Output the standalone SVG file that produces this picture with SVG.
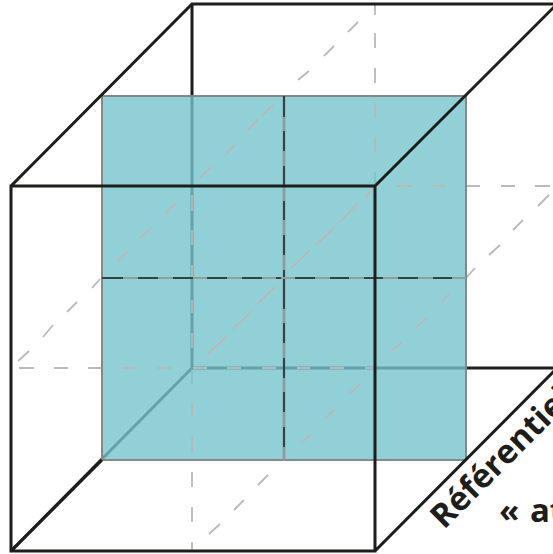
<svg xmlns="http://www.w3.org/2000/svg" width="553" height="554" viewBox="0 0 553 554">
<style>
.k{fill:none;stroke:#1d1d1b;stroke-width:3}
.g{fill:none;stroke:#b9b9b9;stroke-width:1.8}
.m{fill:none;stroke:#3a3f40;stroke-width:2.2}
.mg{fill:none;stroke:#979a9b;stroke-width:2.2}
.t{font-family:"Open Sans","Liberation Sans",sans-serif;font-weight:700;font-size:33px;fill:#1d1d1b}
</style>
<rect width="553" height="554" fill="#fff"/>
<g id="back-edges">
<path class="k" d="M192 4V368M192 368H557M192 368L11 551"/>
</g>
<g id="grey-back">
<path class="g" d="M375 4V15M375 33V48M375 68V83M375 103V117M375 137V152M375 172V186"/>
<path class="g" d="M192 370V384M192 403V417M192 437V452M192 472V487M192 507V522M192 542V550"/>
<path class="g" d="M397 186H411M431 186H446M466 186H480M501 186H515M535 186H550"/>
<path class="g" d="M19 368H34M54 368H68M88 368H102M123 368H137M157 368H172"/>
<path class="g" d="M358 22L348 32M334 46L324 56M309 71L298 80"/>
<path class="g" d="M549 195L538 206M523 220L513 230M500 245L489 255M475 268L466 278M268 475L258 485M244 500L234 510M220 524L209 534"/>
<path class="g" d="M100 279L92 288M77 302L67 312M53 325L43 337M29 351L18 361"/>
</g>
<g id="plane">
<rect x="102" y="96" width="364" height="364" fill="#77c4ce" fill-opacity=".8" stroke="#858888" stroke-width="2"/>
</g>
<g id="grey-on-plane">
<path class="g" d="M375 103V117M375 137V152M397 186H411M431 186H446"/>
<path class="g" d="M192 195V211M192 230V245M192 265V277M192 300V313M192 333V348M192 403V417M192 437V452"/>
<path class="g" d="M193 368H207M227 368H241M262 368H276M297 368H310M330 368H344M365 368H375"/>
<path class="g" d="M123 368H137M157 368H172"/>
<path class="g" d="M273 105L262 116M258 120L248 130M235 145L225 155M211 167L200 178M175 204L165 214M152 227L140 238M127 252L117 262"/>
<path class="g" d="M450 293L441 303M427 318L416 327M402 342L392 351M360 384L349 394M335 409L325 419M311 435L301 443"/>
<path class="g" d="M227 336L208 354M252 311L233 329M275 287L257 304M310 250L291 268M335 227L316 245M358 203L340 222M373 188L365 198"/>
</g>
<g id="mid-lines">
<path class="m" d="M102 278H466M284 96V460"/>
<path class="mg" d="M123 278H138M158 278H173M193 278H207M227 278H242M262 278H276M281 278H295M315 278H330M349 278H364M383 278H398M418 278H433M452 278H466"/>
<path class="mg" d="M284 117V131M284 151V166M284 186V201M284 220V235M284 255V270M284 309V323M284 343V358M284 378V392M284 412V427M284 447V461"/>
</g>
<g id="front-edges">
<path class="k" d="M11 186H375V551H11ZM11 186L192 4H557M375 186L557 4M11 551L102 460M375 551L557 368"/>
</g>
<g id="labels">
<text class="t" transform="translate(444 530) rotate(-45)">Référentiel</text>
<text class="t" x="499" y="522" word-spacing="2">« at</text>
</g>
</svg>
